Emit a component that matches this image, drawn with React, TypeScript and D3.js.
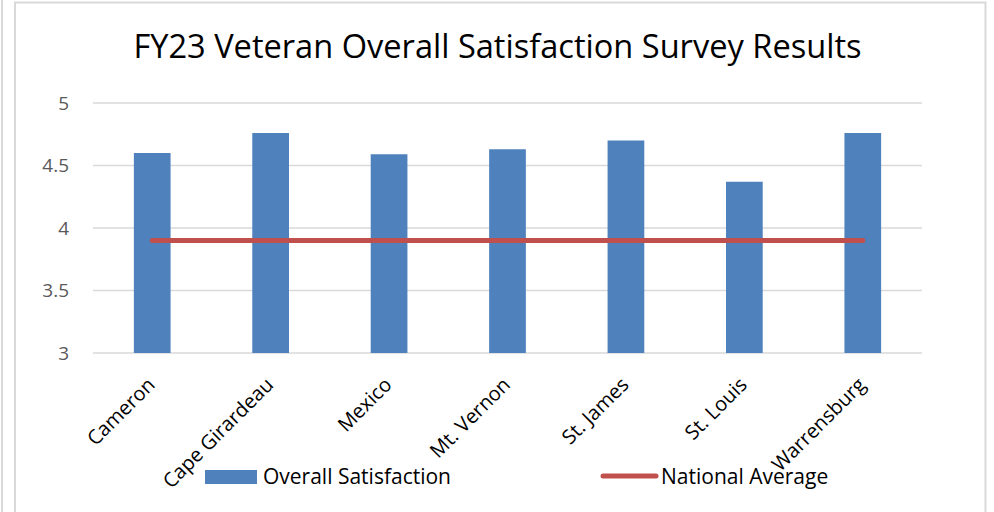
import React from "react";
import * as d3 from "d3";

const categories = ["Cameron", "Cape Girardeau", "Mexico", "Mt. Vernon", "St. James", "St. Louis", "Warrensburg"];
const satisfaction = [4.6, 4.76, 4.59, 4.63, 4.7, 4.37, 4.76];
const nationalAverage = [3.9, 3.9, 3.9, 3.9, 3.9, 3.9, 3.9];
const yTicks = [3, 3.5, 4, 4.5, 5];
const title = "FY23 Veteran Overall Satisfaction Survey Results";
const seriesNames = ["Overall Satisfaction", "National Average"];

const W = 994;
const H = 512;
const FONT = "'Open Sans', 'Noto Sans', sans-serif";
const BLUE = "#4F81BD";
const RED = "#C0504D";
const GRID = "#d9d9d9";

export default function App() {
  const x = d3.scaleBand<string>().domain(categories).range([93, 922]).padding(0);
  const y = d3.scaleLinear().domain([3, 5]).range([353, 103]);
  const bw = x.bandwidth() * 0.31;
  const cx = (c: string) => (x(c) as number) + x.bandwidth() / 2;
  const linePath = d3
    .line<number>()
    .x((_, i) => cx(categories[i]))
    .y((d) => y(d))(nationalAverage) as string;

  return (
    <svg width={W} height={H} style={{ position: "absolute", left: 0, top: 0, background: "#fff" }} fontFamily={FONT}>
      <rect x={0} y={0} width={W} height={H} fill="#fff" />
      {/* outer borders */}
      <line x1={2} y1={0} x2={2} y2={H} stroke={GRID} strokeWidth={2} />
      <path d={`M15,${H} V2.5 H985.5 V${H}`} fill="none" stroke={GRID} strokeWidth={2} />
      {/* title */}
      <text x={497.5} y={58} textAnchor="middle" fontSize={32.6} fill="#000">
        {title}
      </text>
      {/* gridlines */}
      {yTicks.map((t) => (
        <line key={t} x1={93} x2={922} y1={y(t)} y2={y(t)} stroke={GRID} strokeWidth={1.5} />
      ))}
      {/* y tick labels */}
      {yTicks.map((t) => (
        <text key={t} x={69} y={y(t)} dy="0.36em" textAnchor="end" fontSize={19} fill="#595959">
          {t}
        </text>
      ))}
      {/* bars */}
      {categories.map((c, i) => (
        <rect key={c} x={cx(c) - bw / 2} y={y(satisfaction[i])} width={bw} height={y(3) - y(satisfaction[i])} fill={BLUE} />
      ))}
      {/* national average line */}
      <path d={linePath} fill="none" stroke={RED} strokeWidth={5} strokeLinecap="round" />
      {/* x labels */}
      {categories.map((c) => (
        <text
          key={c}
          transform={`translate(${cx(c) + 4},${386}) rotate(-45)`}
          textAnchor="end"
          fontSize={20}
          fill="#000"
        >
          {c}
        </text>
      ))}
      {/* legend */}
      <rect x={205} y={470} width={52} height={14} fill={BLUE} />
      <text x={263} y={484} fontSize={21} fill="#000">
        {seriesNames[0]}
      </text>
      <line x1={603} x2={656} y1={476} y2={476} stroke={RED} strokeWidth={5} strokeLinecap="round" />
      <text x={661} y={484} fontSize={21} fill="#000">
        {seriesNames[1]}
      </text>
    </svg>
  );
}
